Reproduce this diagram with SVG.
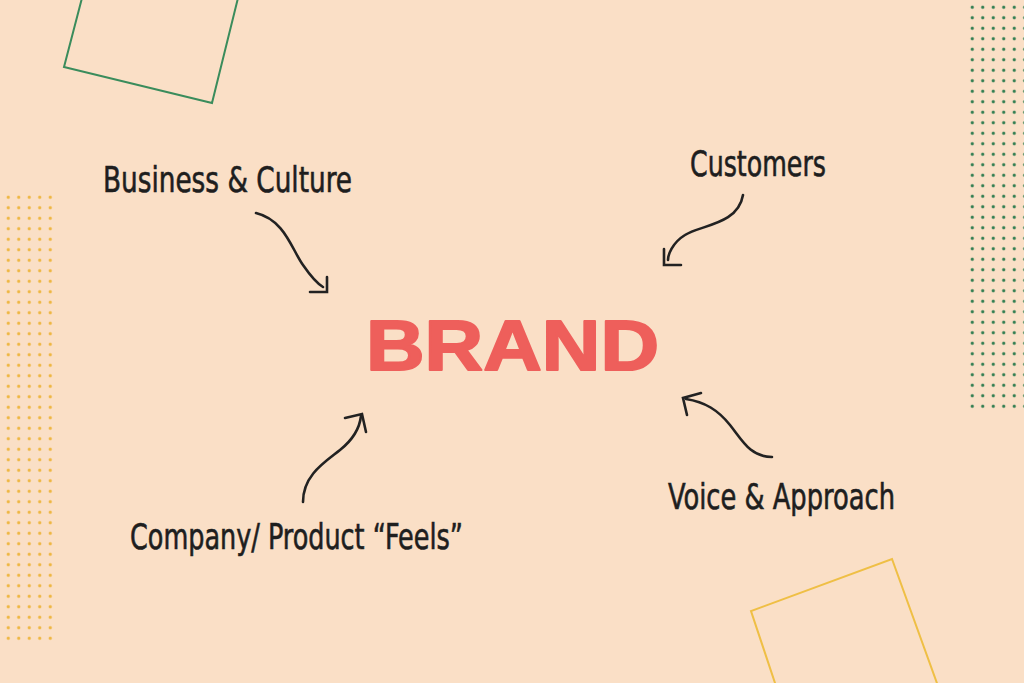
<svg xmlns="http://www.w3.org/2000/svg" width="1024" height="683" viewBox="0 0 1024 683">
  <style>
    .label { font-family: "Liberation Sans Narrow", "DejaVu Sans Condensed", "Liberation Sans", sans-serif; font-stretch: condensed; font-size: 36px; fill: #1e1e1e; stroke: #1e1e1e; stroke-width: 0.6; }
    .brand { font-family: "Liberation Sans", "DejaVu Sans", sans-serif; font-weight: bold; font-size: 71px; fill: #ee5f5b; stroke: #ee5f5b; stroke-width: 2; stroke-linejoin: round; }
    .conn { fill: none; stroke: #222; stroke-width: 2.6; stroke-linecap: round; stroke-linejoin: miter; }
  </style>
  <defs>
    <pattern id="dotsY" x="3" y="192" width="10.5" height="10.5" patternUnits="userSpaceOnUse">
      <circle cx="5.25" cy="5.25" r="1.6" fill="#eeb640"/>
    </pattern>
    <pattern id="dotsG" x="967" y="2" width="10.5" height="10.5" patternUnits="userSpaceOnUse">
      <circle cx="5.25" cy="5.25" r="1.6" fill="#2f7d50"/>
    </pattern>
  </defs>
  <rect width="1024" height="683" fill="#fadfc6"/>
  <g id="decor">
    <rect x="3" y="192" width="53" height="452" fill="url(#dotsY)"/>
    <rect x="967" y="2" width="57" height="409" fill="url(#dotsG)"/>
    <polyline points="82,-2 64,67 212,103 238,-2" fill="none" stroke="#3a8c5c" stroke-width="2"/>
    <polyline points="776,686 751,611 892,559 938,686" fill="none" stroke="#efbf45" stroke-width="2"/>
  </g>
  <g id="connectors">
    <path class="conn" d="M256,213 C285,220 292,250 303,265 C312,278 318,284 323,287"/>
    <polyline class="conn" points="327,277 327,292 310,292"/>
    <path class="conn" d="M743,195 C738,225 700,225 685,235 C672,243 668,255 668,260"/>
    <polyline class="conn" points="664,249 664,265 681,265"/>
    <path class="conn" d="M303,502 C303,475 325,462 340,450 C355,438 360,425 361,416"/>
    <polyline class="conn" points="345,418 362,414 366,432"/>
    <path class="conn" d="M772,457 C750,457 742,440 730,425 C718,410 705,402 686,399"/>
    <polyline class="conn" points="701,393 683,398 687,415"/>
  </g>
  <g id="brand">
    <text class="brand" x="366" y="370" textLength="293" lengthAdjust="spacingAndGlyphs">BRAND</text>
  </g>
  <g id="business-culture">
    <text class="label" x="103" y="192" textLength="249" lengthAdjust="spacingAndGlyphs">Business &amp; Culture</text>
  </g>
  <g id="customers">
    <text class="label" x="690" y="176" textLength="136" lengthAdjust="spacingAndGlyphs">Customers</text>
  </g>
  <g id="company-product">
    <text class="label" x="130" y="549" textLength="333" lengthAdjust="spacingAndGlyphs">Company/ Product “Feels”</text>
  </g>
  <g id="voice-approach">
    <text class="label" x="668" y="509" textLength="227" lengthAdjust="spacingAndGlyphs">Voice &amp; Approach</text>
  </g>
</svg>
